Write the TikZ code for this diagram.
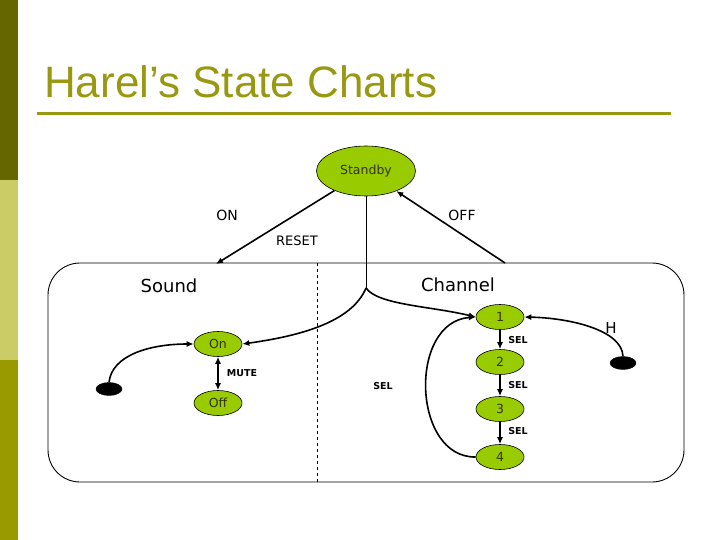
\documentclass[tikz,border=0pt]{standalone}
\usepackage{fontspec}
\setmainfont{DejaVu Sans}
\newfontfamily\titlefont{Liberation Sans}
\usetikzlibrary{arrows.meta,shapes.geometric}
\definecolor{olivedark}{RGB}{102,102,0}
\definecolor{olivelight}{RGB}{204,204,102}
\definecolor{olivemid}{RGB}{153,153,0}
\definecolor{titlecol}{RGB}{153,153,17}
\definecolor{statefill}{RGB}{153,204,0}
\definecolor{statetext}{RGB}{51,51,0}
\tikzset{
  statebox/.style={ellipse, draw=black, line width=0.6pt, fill=statefill, inner sep=0pt,
    minimum width=48pt, minimum height=25pt, text=statetext, font=\fontsize{12.5}{14}\selectfont},
  initdot/.style={ellipse, fill=black, draw=black, inner sep=0pt, minimum width=26pt, minimum height=13pt},
  conn/.style={line width=1.6pt, -{Latex[length=7pt,width=6pt]}},
  thinline/.style={line width=0.9pt},
  lbl/.style={font=\fontsize{14}{16}\selectfont, inner sep=0pt},
  small/.style={font=\bfseries\fontsize{9.5}{11}\selectfont, inner sep=0pt},
  big/.style={font=\fontsize{18}{20}\selectfont, inner sep=0pt}
}
\begin{document}
\begin{tikzpicture}[x=1pt,y=-1pt]
\useasboundingbox (0,0) rectangle (720,540);
% side bars
\fill[olivedark] (0,0) rectangle (18,180);
\fill[olivelight] (0,180) rectangle (18,360);
\fill[olivemid] (0,360) rectangle (18,540);
% title
\node[anchor=base west, inner sep=0pt, text=titlecol, font=\titlefont\fontsize{44}{48}\selectfont] (title) at (44,98) {Harel’s State Charts};
\draw[titlecol, line width=3pt] (37,114) -- (671,114);
% outer box
\node[draw=black, thinline, rounded corners=32pt, minimum width=636pt, minimum height=219pt, inner sep=0pt] (box) at (366,372.5) {};
\coordinate (dtop) at (317,263);
\coordinate (dbot) at (317,482);
\draw[dashed, line width=0.8pt] (dtop) -- (dbot);
% states
\node[statebox, minimum width=99pt, minimum height=50pt] (standby) at (366,171) {Standby};
\node[statebox] (on) at (218,344) {On};
\node[statebox] (off) at (218,403) {Off};
\node[statebox] (c1) at (500,317) {1};
\node[statebox] (c2) at (500,362) {2};
\node[statebox] (c3) at (500,409) {3};
\node[statebox] (c4) at (500,457) {4};
\node[initdot] (dotL) at (109,389) {};
\node[initdot] (dotR) at (623,363) {};
% top connectors
\coordinate (onend) at (216,264);
\coordinate (offstart) at (505,263);
\coordinate (fork) at (366,288);
\draw[conn] (standby) -- (onend);
\draw[conn] (offstart) -- (standby);
\draw[thinline] (standby) -- (fork);
\draw[conn] (fork) .. controls (352,322) and (300,336) .. (on.east);
\draw[conn] (fork) .. controls (378,305) and (430,306) .. (c1.west);
% sound
\draw[conn] (dotL.north) .. controls (112,355) and (150,344) .. (on.west);
\draw[line width=1.6pt, {Latex[length=7pt,width=6pt]}-{Latex[length=7pt,width=6pt]}] (on) -- (off);
% channel
\draw[conn] (c1) -- (c2);
\draw[conn] (c2) -- (c3);
\draw[conn] (c3) -- (c4);
\draw[conn] (c4.west) .. controls (412,458) and (408,322) .. (c1.west);
\draw[conn] (dotR.north) .. controls (622,330) and (570,318) .. (c1.east);
% labels
\node[lbl] (lON) at (227,215) {ON};
\node[lbl] (lOFF) at (462,215) {OFF};
\node[lbl, font=\fontsize{13}{15}\selectfont] (lRESET) at (297,241) {RESET};
\node[big] (lSound) at (169,286) {Sound};
\node[big] (lChannel) at (458,285) {Channel};
\node[small] (lMUTE) at (242,373) {MUTE};
\node[small] (lSEL0) at (383,386) {SEL};
\node[small] (lSEL1) at (518,340) {SEL};
\node[small] (lSEL2) at (518,385) {SEL};
\node[small] (lSEL3) at (518,431) {SEL};
\node[font=\fontsize{15}{17}\selectfont, inner sep=0pt] (lH) at (611,328) {H};
\end{tikzpicture}
\end{document}
